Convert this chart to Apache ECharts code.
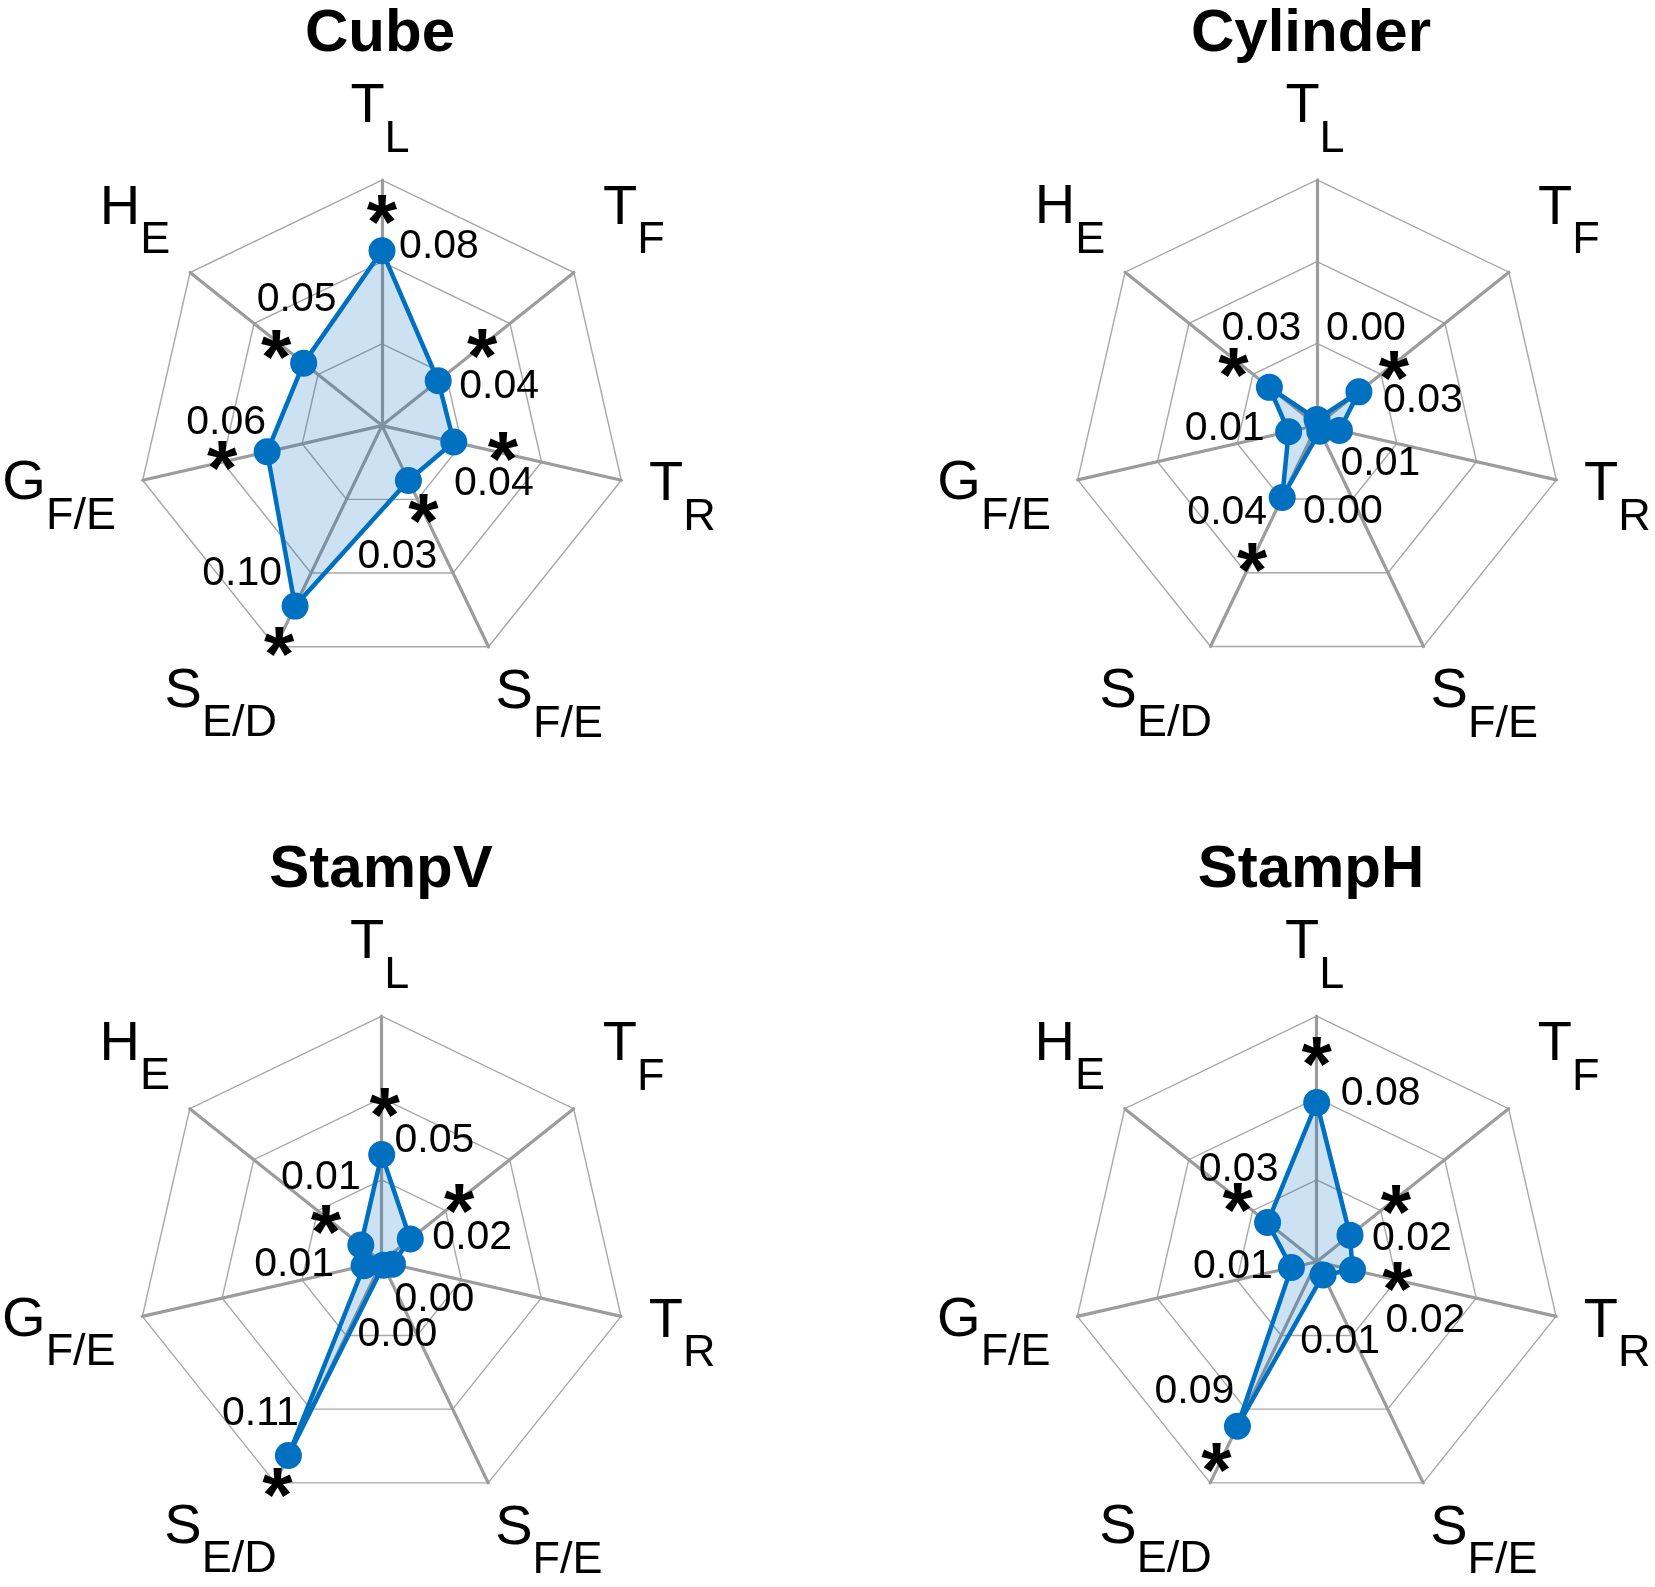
<!DOCTYPE html>
<html><head><meta charset="utf-8">
<script src="https://cdn.jsdelivr.net/npm/echarts@6/dist/echarts.min.js"></script>
<style>html,body{margin:0;padding:0;background:#fff}#c{width:1655px;height:1587px}</style>
</head><body><div id="c"></div>
<script>
// ---------------- data ----------------
// axes (natural clockwise order from top): [main letter, subscript]
const axisNames = [['T','L'],['T','F'],['T','R'],['S','F/E'],['S','E/D'],['G','F/E'],['H','E']];
const titles = ['Cube','Cylinder','StampV','StampH'];
const axisMax = 0.125;

// plotted values (read from the point positions)
const cubeValues     = [0.089, 0.0366, 0.0375, 0.031, 0.102, 0.060, 0.051];
const cylinderValues = [0.003, 0.0273, 0.0117, 0.0033, 0.0408, 0.0148, 0.031];
const stampVValues   = [0.0546, 0.0186, 0.0056, 0.002, 0.1095, 0.0092, 0.0136];
const stampHValues   = [0.081, 0.0217, 0.0187, 0.0075, 0.093, 0.0132, 0.032];

// printed value labels
const cubeLabels     = ['0.08','0.04','0.04','0.03','0.10','0.06','0.05'];
const cylinderLabels = ['0.00','0.03','0.01','0.00','0.04','0.01','0.03'];
const stampVLabels   = ['0.05','0.02','0.00','0.00','0.11','0.01','0.01'];
const stampHLabels   = ['0.08','0.02','0.02','0.01','0.09','0.01','0.03'];

// significance markers (*)
const cubeSig     = [1,1,1,1,1,1,1];
const cylinderSig = [0,1,0,0,1,0,1];
const stampVSig   = [1,1,0,0,1,0,1];
const stampHSig   = [1,1,1,0,1,0,1];

// ---------------- layout / style ----------------
const FONT = "'Liberation Sans', Arial, sans-serif";
const BLUE = '#0070c0';
const CENTERS = [[382,425.6],[1317,425.3],[381.7,1261.7],[1316.7,1261.7]];
const RADIUS = 245.5;
const TITLE_POS = [[380,4],[1311,4],[381,840],[1311,840]];
const NAME_DY = -15;
const NAME_OFF = [[-2,-44.7],[60,-35.5],[61,33.3],[60.7,74],[-54.7,73.2],[-83.5,32.3],[-55,-35.7]];
const VAL_OFF = [
  [[57,-4],[61,6],[40,42],[-11,76],[-53,-32],[-41,-29],[-7,-63]],
  [[49,-91],[64,9],[41,33],[23,81],[-55,15],[-64,-3.5],[-8,-59]],
  [[52.7,-14],[62,-1],[42,36],[14,69],[-28,-42],[-70,-1],[-40,-67.5]],
  [[64,-8.5],[62,4],[73,51],[17,67],[-43,-35],[-58.5,-1],[-29,-52.5]]
];
const STAR_OFF = [
  [[0,-38],[44,-34],[49,7],[15,31],[-16,38],[-45,7],[-27.5,-16]],
  [null,[35,-23],null,null,[-30,63],null,[-36,-22]],
  [[3,-49],[49,-37],null,null,[-11,30],null,[-35,-23]],
  [[0,-48],[46,-33],[45,10],null,[-21,34],null,[-30,-22]]
];
const STAR_SIZE = 78, STAR_DY = 15;

const valuesAll = [cubeValues, cylinderValues, stampVValues, stampHValues];
const labelsAll = [cubeLabels, cylinderLabels, stampVLabels, stampHLabels];
const sigAll = [cubeSig, cylinderSig, stampVSig, stampHSig];

// ECharts places indicators counter-clockwise; map natural order to it
const ORDER = [0,6,5,4,3,2,1];
const toEC = arr => ORDER.map(k => arr[k]);
const single = (k, v) => ORDER.map(kk => kk === k ? v : 0);

const radar = CENTERS.map(c => ({
  center: c, radius: RADIUS, startAngle: 90, splitNumber: 3, shape: 'polygon',
  indicator: ORDER.map(k => ({ name: axisNames[k].join('_'), min: 0, max: axisMax })),
  axisName: { show: false },
  axisLine: { lineStyle: { color: '#9c9c9c', width: 3.2 } },
  splitLine: { lineStyle: { color: '#a8a8a8', width: 1.4 } },
  splitArea: { show: false },
  axisTick: { show: false }, axisLabel: { show: false }
}));

const series = [];
valuesAll.forEach((vals, i) => {
  series.push({
    type: 'radar', radarIndex: i, z: 2, silent: true,
    symbol: 'circle', symbolSize: 27,
    lineStyle: { color: BLUE, width: 4.5 },
    itemStyle: { color: BLUE },
    areaStyle: { color: BLUE, opacity: 0.2 },
    data: [{ value: toEC(vals), name: titles[i] }]
  });
  const items = [];
  axisNames.forEach((ax, k) => {
    items.push({
      value: single(k, axisMax),
      label: {
        show: true, position: 'inside', offset: [NAME_OFF[k][0], NAME_OFF[k][1] + NAME_DY],
        formatter: p => p.value > 0 ? '{m|' + ax[0] + '}{s|' + ax[1] + '}' : '',
        rich: {
          m: { fontFamily: FONT, fontSize: 56, lineHeight: 56, verticalAlign: 'top', color: '#000' },
          s: { fontFamily: FONT, fontSize: 45, lineHeight: 83, verticalAlign: 'bottom', color: '#000' }
        }
      }
    });
    items.push({
      value: single(k, vals[k]),
      label: {
        show: true, position: 'inside', offset: VAL_OFF[i][k],
        formatter: p => p.value > 0 ? labelsAll[i][k] : '',
        fontFamily: FONT, fontSize: 41, color: '#000'
      }
    });
    if (sigAll[i][k]) {
      const so = STAR_OFF[i][k];
      items.push({
        value: single(k, vals[k]),
        label: {
          show: true, position: 'inside', offset: [so[0], so[1] + STAR_DY],
          formatter: p => p.value > 0 ? '*' : '',
          fontFamily: FONT, fontSize: STAR_SIZE, fontWeight: 'bold', color: '#000'
        }
      });
    }
  });
  series.push({
    type: 'radar', radarIndex: i, z: 5, silent: true,
    symbol: 'circle', symbolSize: 1,
    itemStyle: { color: 'rgba(0,0,0,0)' },
    lineStyle: { width: 0, opacity: 0 },
    data: items
  });
});

const chart = echarts.init(document.getElementById('c'));
chart.setOption({
  animation: false,
  backgroundColor: '#fff',
  title: titles.map((t, i) => ({
    text: t, left: TITLE_POS[i][0], top: TITLE_POS[i][1], textAlign: 'center', padding: 0,
    textStyle: { fontFamily: FONT, fontSize: 60, fontWeight: 'bold', color: '#000' }
  })),
  radar: radar,
  series: series
});
</script></body></html>
